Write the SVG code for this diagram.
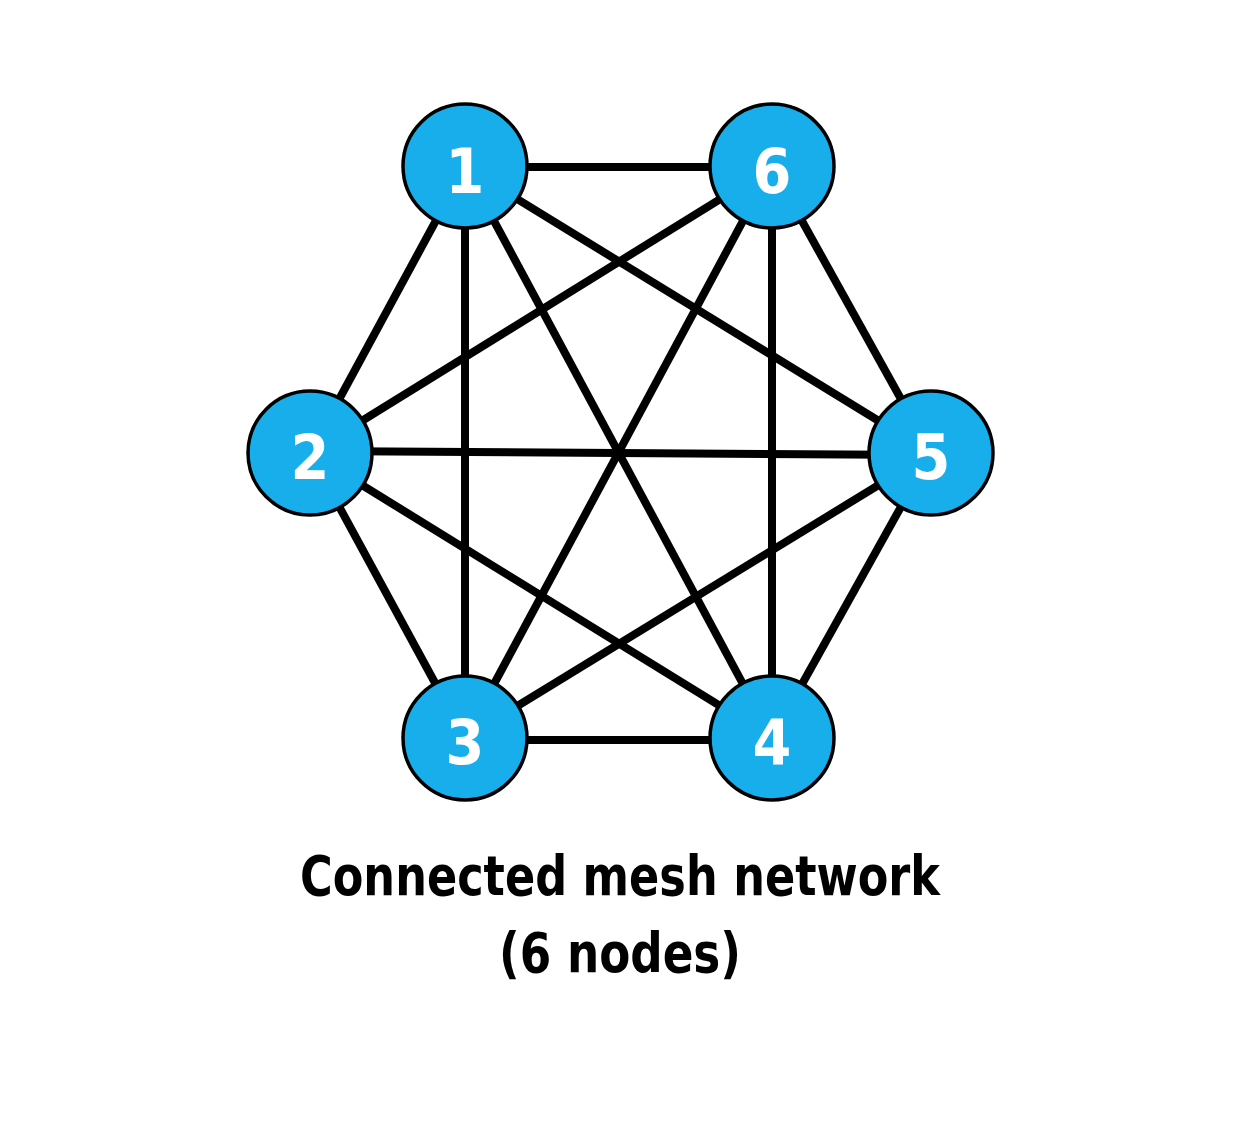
<svg xmlns="http://www.w3.org/2000/svg" width="1241" height="1125" viewBox="0 0 1241 1125">
<style>
.edge{stroke:#000;stroke-width:8;fill:none}
.node circle{fill:#17AEEB;stroke:#000;stroke-width:3.5}
.node text{fill:#fff;font-family:"DejaVu Sans Condensed","DejaVu Sans",sans-serif;font-weight:bold;font-size:62px;text-anchor:middle}
.title{fill:#000;font-family:"DejaVu Sans Condensed","DejaVu Sans",sans-serif;font-weight:bold;font-size:56px;text-anchor:middle}
</style>
<rect width="1241" height="1125" fill="#fff"/>
<g id="connectors">
<line class="edge" x1="465" y1="167" x2="772" y2="167"/>
<line class="edge" x1="465" y1="167" x2="310" y2="453"/>
<line class="edge" x1="465" y1="167" x2="465" y2="738"/>
<line class="edge" x1="465" y1="167" x2="772" y2="738"/>
<line class="edge" x1="465" y1="167" x2="931" y2="453"/>
<line class="edge" x1="772" y1="167" x2="310" y2="453"/>
<line class="edge" x1="772" y1="167" x2="465" y2="738"/>
<line class="edge" x1="772" y1="167" x2="772" y2="738"/>
<line class="edge" x1="772" y1="167" x2="931" y2="453"/>
<line class="edge" x1="310" y1="451" x2="931" y2="455"/>
<line class="edge" x1="310" y1="453" x2="465" y2="738"/>
<line class="edge" x1="310" y1="453" x2="772" y2="738"/>
<line class="edge" x1="465" y1="740" x2="772" y2="740"/>
<line class="edge" x1="465" y1="738" x2="931" y2="453"/>
<line class="edge" x1="772" y1="738" x2="931" y2="453"/>
</g>
<g id="node1" class="node"><circle cx="465" cy="166" r="62"/><text x="465" y="193">1</text></g>
<g id="node6" class="node"><circle cx="772" cy="166" r="62"/><text x="772" y="193">6</text></g>
<g id="node2" class="node"><circle cx="310" cy="453" r="62"/><text x="310" y="479">2</text></g>
<g id="node5" class="node"><circle cx="931" cy="453" r="62"/><text x="931" y="479">5</text></g>
<g id="node3" class="node"><circle cx="465" cy="738" r="62"/><text x="465" y="764">3</text></g>
<g id="node4" class="node"><circle cx="772" cy="738" r="62"/><text x="772" y="764">4</text></g>
<text class="title" x="620" y="895" textLength="640" lengthAdjust="spacingAndGlyphs">Connected mesh network</text>
<text class="title" x="620" y="972" textLength="242" lengthAdjust="spacingAndGlyphs">(6 nodes)</text>
</svg>
